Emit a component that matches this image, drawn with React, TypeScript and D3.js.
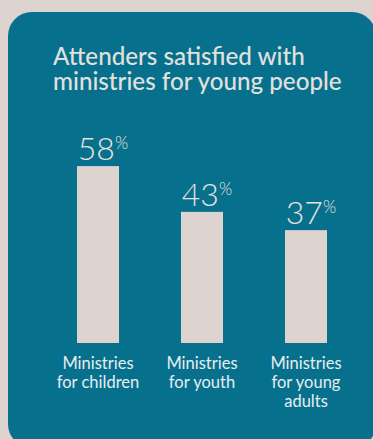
import React from "react";
import * as d3 from "d3";

const categories = [
  ["Ministries", "for children"],
  ["Ministries", "for youth"],
  ["Ministries", "for young", "adults"],
];
const values = [58, 43, 37];
const titleLines = ["Attenders satisfied with", "ministries for young people"];

const W = 373;
const H = 439;

export default function App() {
  const x = d3
    .scaleBand<number>()
    .domain(d3.range(values.length))
    .range([51, 353])
    .paddingInner(0.596)
    .paddingOuter(0.25);
  const y = d3.scaleLinear().domain([0, 100]).range([343, 38]);

  return (
    <svg
      width={W}
      height={H}
      style={{ position: "absolute", left: 0, top: 0 }}
      fontFamily="Lato, 'Open Sans', sans-serif"
    >
      <rect x={0} y={0} width={W} height={H} fill="#ddd4cf" />
      <rect x={8} y={12} width={368} height={436} rx={24} ry={24} fill="#07708c" />
      <text fill="#e2e0de" fontSize={24.2} fontWeight={500}>
        {titleLines.map((t, i) => (
          <tspan key={i} x={53} y={65 + i * 25}>
            {t}
          </tspan>
        ))}
      </text>
      {values.map((v, i) => {
        const bx = x(i)!;
        const bw = x.bandwidth();
        const cx = bx + bw / 2;
        return (
          <g key={i}>
            <rect x={bx} y={y(v)} width={bw} height={y(0) - y(v)} fill="#ddd3cf" />
            <text
              x={cx + 5}
              y={y(v) - 6}
              textAnchor="middle"
              fill="#e8e2df"
              fontSize={32}
              fontWeight={300}
            >
              {v}
              <tspan fontSize={17} dy={-11}>%</tspan>
            </text>
            <text textAnchor="middle" fill="#e6eef1" fontSize={16.5}>
              {categories[i].map((line, j) => (
                <tspan key={j} x={cx} y={369 + j * 19}>
                  {line}
                </tspan>
              ))}
            </text>
          </g>
        );
      })}
    </svg>
  );
}
